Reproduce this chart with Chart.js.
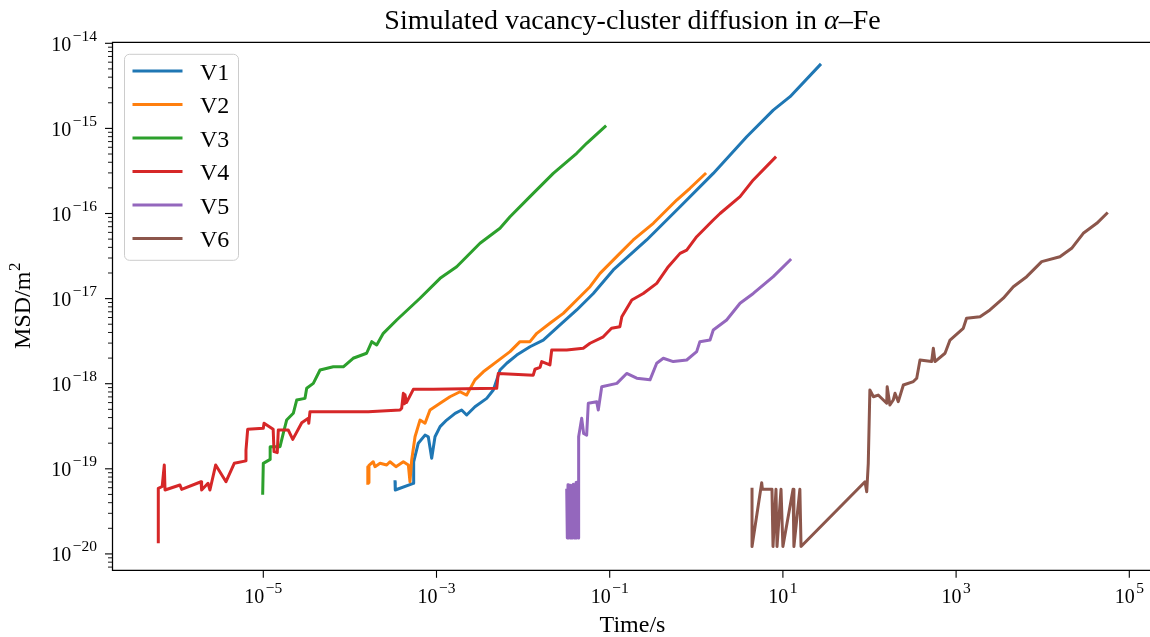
<!DOCTYPE html>
<html>
<head>
<meta charset="utf-8">
<title>Simulated vacancy-cluster diffusion in α–Fe</title>
<script src="https://cdn.jsdelivr.net/npm/chart.js@4.4.0/dist/chart.umd.min.js"></script>
<style>
  html, body { margin: 0; padding: 0; background: #fff; }
  canvas { display: block; }
</style>
</head>
<body>
<canvas id="msdChart" width="1150" height="637"></canvas>
<script>
// values: time in s, MSD in m^2
const v1Time = [3.32e-4, 3.34e-4, 5.40e-4, 5.45e-4, 6.16e-4, 7.37e-4, 8.04e-4, 8.80e-4, 9.61e-4, 1.10e-3,
    1.31e-3, 1.64e-3, 1.95e-3, 2.23e-3, 2.78e-3, 3.80e-3, 4.53e-3, 4.96e-3, 5.41e-3, 6.47e-3,
    8.44e-3, 1.20e-2, 1.71e-2, 2.67e-2, 4.16e-2, 6.47e-2, 0.110, 0.267, 0.649, 1.57,
    3.82, 7.74, 12.1, 26.8];
const v1Msd = [7.05e-20, 5.64e-20, 6.76e-20, 1.21e-19, 2.00e-19, 2.49e-19, 2.38e-19, 1.33e-19, 2.38e-19, 3.13e-19,
    3.74e-19, 4.49e-19, 4.91e-19, 4.29e-19, 5.37e-19, 6.73e-19, 8.43e-19, 1.11e-18, 1.45e-18, 1.74e-18,
    2.17e-18, 2.72e-18, 3.26e-18, 4.90e-18, 7.35e-18, 1.15e-17, 2.17e-17, 4.89e-17, 1.20e-16, 2.96e-16,
    7.99e-16, 1.64e-15, 2.36e-15, 5.56e-15];

const v2Time = [1.61e-4, 1.61e-4, 1.63e-4, 1.66e-4, 1.86e-4, 1.95e-4, 2.23e-4, 2.66e-4, 2.90e-4, 3.40e-4,
    4.14e-4, 4.73e-4, 4.94e-4, 5.17e-4, 5.65e-4, 6.45e-4, 7.37e-4, 8.41e-4, 1.10e-3, 1.43e-3,
    1.87e-3, 2.23e-3, 2.78e-3, 3.47e-3, 4.96e-3, 7.06e-3, 9.21e-3, 1.20e-2, 1.44e-2, 2.04e-2,
    2.91e-2, 4.16e-2, 5.93e-2, 7.73e-2, 0.131, 0.187, 0.319, 0.594, 0.845, 1.26];
const v2Msd = [6.76e-20, 1.06e-19, 6.90e-20, 1.10e-19, 1.21e-19, 1.06e-19, 1.16e-19, 1.11e-19, 1.21e-19, 1.06e-19,
    1.21e-19, 1.11e-19, 7.05e-20, 1.27e-19, 2.38e-19, 3.74e-19, 3.43e-19, 4.91e-19, 5.89e-19, 7.03e-19,
    8.05e-19, 7.36e-19, 1.11e-18, 1.38e-18, 1.82e-18, 2.38e-18, 3.12e-18, 3.12e-18, 3.91e-18, 5.13e-18,
    6.71e-18, 9.64e-18, 1.38e-17, 1.98e-17, 3.40e-17, 4.89e-17, 7.67e-17, 1.44e-16, 1.98e-16, 2.91e-16];

const v3Time = [9.84e-6, 1.00e-5, 1.20e-5, 1.20e-5, 1.56e-5, 1.70e-5, 1.86e-5, 2.22e-5, 2.43e-5, 3.03e-5,
    3.17e-5, 3.78e-5, 4.52e-5, 6.43e-5, 8.39e-5, 1.09e-4, 1.56e-4, 1.79e-4, 2.04e-4, 2.43e-4,
    3.47e-4, 6.45e-4, 1.10e-3, 1.71e-3, 3.18e-3, 5.41e-3, 7.06e-3, 1.20e-2, 2.23e-2, 4.16e-2,
    5.42e-2, 8.83e-2];
const v3Msd = [5.15e-20, 1.16e-19, 1.29e-19, 1.82e-19, 1.82e-19, 2.61e-19, 3.74e-19, 4.49e-19, 6.43e-19, 6.73e-19,
    8.83e-19, 1.01e-18, 1.45e-18, 1.58e-18, 1.58e-18, 1.99e-18, 2.28e-18, 3.12e-18, 2.85e-18, 3.91e-18,
    5.61e-18, 1.01e-17, 1.73e-17, 2.37e-17, 4.47e-17, 6.70e-17, 9.17e-17, 1.58e-16, 2.96e-16, 5.10e-16,
    6.68e-16, 1.05e-15];

const v4Time = [6.13e-7, 6.13e-7, 6.80e-7, 7.19e-7, 7.33e-7, 1.09e-6, 1.14e-6, 1.91e-6, 1.94e-6, 2.30e-6,
    2.42e-6, 2.82e-6, 3.71e-6, 4.62e-6, 6.31e-6, 6.31e-6, 6.60e-6, 1.00e-5, 1.02e-5, 1.30e-5,
    1.33e-5, 1.45e-5, 1.49e-5, 1.94e-5, 2.19e-5, 2.78e-5, 3.31e-5, 3.35e-5, 3.46e-5, 1.63e-4,
    3.79e-4, 3.96e-4, 4.14e-4, 4.25e-4, 4.33e-4, 4.50e-4, 5.40e-4, 9.19e-4, 4.96e-3, 5.17e-3,
    1.31e-2, 1.37e-2, 1.57e-2, 1.64e-2, 2.04e-2, 2.14e-2, 3.19e-2, 4.95e-2, 5.93e-2, 8.43e-2,
    0.105, 0.131, 0.138, 0.180, 0.244, 0.349, 0.475, 0.649, 0.775, 1.01,
    1.57, 1.88, 3.20, 4.55, 8.11];
const v4Msd = [1.39e-20, 5.90e-20, 6.20e-20, 1.11e-19, 5.64e-20, 6.46e-20, 5.74e-20, 7.05e-20, 5.64e-20, 6.76e-20,
    5.64e-20, 1.11e-19, 7.05e-20, 1.16e-19, 1.24e-19, 1.66e-19, 2.91e-19, 2.99e-19, 3.43e-19, 2.91e-19,
    1.59e-19, 1.55e-19, 2.86e-19, 2.86e-19, 2.22e-19, 3.48e-19, 3.92e-19, 3.43e-19, 4.69e-19, 4.69e-19,
    4.91e-19, 5.14e-19, 7.71e-19, 5.80e-19, 7.40e-19, 6.00e-19, 8.59e-19, 8.59e-19, 8.83e-19, 1.32e-18,
    1.26e-18, 1.48e-18, 1.56e-18, 1.82e-18, 1.66e-18, 2.49e-18, 2.49e-18, 2.61e-18, 2.99e-18, 3.56e-18,
    4.48e-18, 4.68e-18, 6.12e-18, 9.64e-18, 1.15e-17, 1.51e-17, 2.37e-17, 3.40e-17, 3.72e-17, 5.34e-17,
    8.39e-17, 1.00e-16, 1.58e-16, 2.48e-16, 4.53e-16];

const v5Time = [3.19e-2, 3.24e-2, 3.30e-2, 3.36e-2, 3.42e-2, 3.48e-2, 3.54e-2, 3.60e-2, 3.67e-2, 3.74e-2,
    3.81e-2, 3.88e-2, 3.95e-2, 4.02e-2, 4.09e-2, 4.17e-2, 4.25e-2, 4.34e-2, 4.36e-2, 4.40e-2,
    4.75e-2, 5.00e-2, 5.42e-2, 5.66e-2, 7.08e-2, 7.38e-2, 8.09e-2, 0.121, 0.157, 0.205,
    0.292, 0.349, 0.416, 0.542, 0.775, 1.01, 1.10, 1.44, 1.57, 2.24,
    3.20, 4.55, 7.74, 12.1];
const v5Msd = [5.60e-20, 1.54e-20, 6.50e-20, 1.54e-20, 5.20e-20, 1.54e-20, 6.40e-20, 1.54e-20, 5.80e-20, 1.54e-20,
    6.60e-20, 1.54e-20, 6.00e-20, 1.54e-20, 6.90e-20, 1.54e-20, 7.00e-20, 1.54e-20, 1.33e-19, 2.38e-19,
    3.92e-19, 2.60e-19, 2.49e-19, 5.89e-19, 6.15e-19, 4.91e-19, 9.23e-19, 1.01e-18, 1.32e-18, 1.16e-18,
    1.11e-18, 1.74e-18, 1.99e-18, 1.82e-18, 1.90e-18, 2.38e-18, 3.12e-18, 3.26e-18, 4.28e-18, 5.61e-18,
    8.81e-18, 1.15e-17, 1.81e-17, 2.84e-17];

const v6Time = [4.40, 4.40, 5.69, 5.80, 7.48, 7.69, 8.32, 8.55, 9.51, 10.0,
    13.1, 13.4, 15.7, 16.2, 88.7, 92.9, 96.8, 101, 111, 126,
    158, 160, 172, 188, 197, 215, 246, 321, 351, 383,
    522, 546, 571, 745, 851, 1210, 1320, 1890, 2460, 3510,
    4580, 6530, 9730, 15800, 21600, 29400, 42100, 54800];
const v6Msd = [5.74e-20, 1.22e-20, 6.87e-20, 5.74e-20, 5.74e-20, 1.22e-20, 5.74e-20, 1.22e-20, 5.74e-20, 1.22e-20,
    5.74e-20, 1.22e-20, 5.74e-20, 1.22e-20, 7.05e-20, 5.38e-20, 1.16e-19, 8.43e-19, 7.03e-19, 7.36e-19,
    5.89e-19, 9.23e-19, 5.62e-19, 6.43e-19, 7.71e-19, 6.15e-19, 9.66e-19, 1.06e-18, 1.16e-18, 1.90e-18,
    1.82e-18, 2.61e-18, 1.82e-18, 2.28e-18, 3.26e-18, 4.48e-18, 5.87e-18, 6.12e-18, 7.35e-18, 1.01e-17,
    1.38e-17, 1.81e-17, 2.72e-17, 3.10e-17, 3.90e-17, 5.85e-17, 7.67e-17, 1.00e-16];

const seriesNames = ['V1', 'V2', 'V3', 'V4', 'V5', 'V6'];
const seriesTimes = [v1Time, v2Time, v3Time, v4Time, v5Time, v6Time];
const seriesMsd = [v1Msd, v2Msd, v3Msd, v4Msd, v5Msd, v6Msd];
const seriesColors = ['#1f77b4', '#ff7f0e', '#2ca02c', '#d62728', '#9467bd', '#8c564b'];

// major tick positions (labels are 10^exponent)
const xTicks = [1e-5, 1e-3, 1e-1, 1e1, 1e3, 1e5];
const xTickExp = [-5, -3, -1, 1, 3, 5];
const yTicks = [1e-20, 1e-19, 1e-18, 1e-17, 1e-16, 1e-15, 1e-14];
const yTickExp = [-20, -19, -18, -17, -16, -15, -14];

const SERIF = "'Liberation Serif', 'Times New Roman', serif";

const data = {
    datasets: seriesNames.map((name, i) => ({
        label: name,
        data: seriesTimes[i].map((t, k) => ({x: t, y: seriesMsd[i][k]})),
        borderColor: seriesColors[i],
        borderWidth: 3,
        pointRadius: 0,
        fill: false,
        tension: 0,
        borderJoinStyle: 'round',
        borderCapStyle: 'square',
        // matplotlib draws later lines on top
        order: seriesNames.length - i
    }))
};

function drawPower(ctx, exp, x, baseY, supY, align) {
    const sup = (exp < 0 ? '\u2212' : '') + Math.abs(exp);
    ctx.font = '20px ' + SERIF;
    const wb = ctx.measureText('10').width;
    ctx.font = '15.5px ' + SERIF;
    const ws = ctx.measureText(sup).width + 1.5;
    const left = align === 'center' ? x - (wb + ws) / 2 : x - wb - ws;
    ctx.font = '20px ' + SERIF;
    ctx.fillText('10', left, baseY);
    ctx.font = '15.5px ' + SERIF;
    ctx.fillText(sup, left + wb + 1.5, supY);
}

function roundedBox(ctx, x, y, w, h, r) {
    ctx.beginPath();
    ctx.moveTo(x + r, y);
    ctx.arcTo(x + w, y, x + w, y + h, r);
    ctx.arcTo(x + w, y + h, x, y + h, r);
    ctx.arcTo(x, y + h, x, y, r);
    ctx.arcTo(x, y, x + w, y, r);
    ctx.closePath();
}

// axes frame, ticks, labels, title and legend in matplotlib style
const decorations = {
    id: 'decorations',
    afterDraw(chart) {
        const {ctx, chartArea: a, scales} = chart;
        const {x, y} = scales;
        ctx.save();
        ctx.fillStyle = '#000';
        ctx.strokeStyle = '#000';
        ctx.textBaseline = 'alphabetic';

        // spines (right one falls outside the picture)
        ctx.lineWidth = 1.25;
        ctx.beginPath();
        ctx.moveTo(chart.width, a.top);
        ctx.lineTo(a.left, a.top);
        ctx.lineTo(a.left, a.bottom);
        ctx.lineTo(chart.width, a.bottom);
        ctx.stroke();

        // x ticks
        ctx.lineWidth = 1.1;
        xTicks.forEach((v, i) => {
            const px = x.getPixelForValue(v);
            ctx.beginPath();
            ctx.moveTo(px, a.bottom);
            ctx.lineTo(px, a.bottom + 7.5);
            ctx.stroke();
            drawPower(ctx, xTickExp[i], px, a.bottom + 33, a.bottom + 23, 'center');
        });

        // y ticks, major and minor
        yTicks.forEach((v, i) => {
            const py = y.getPixelForValue(v);
            ctx.beginPath();
            ctx.moveTo(a.left, py);
            ctx.lineTo(a.left - 7.5, py);
            ctx.stroke();
            drawPower(ctx, yTickExp[i], a.left - 15.5, py + 7.5, py - 2.5, 'right');
        });
        ctx.lineWidth = 0.9;
        for (let e = -21; e <= -15; e++) {
            for (let m = 2; m <= 9; m++) {
                const v = m * Math.pow(10, e);
                if (v < y.min || v > y.max) continue;
                const py = y.getPixelForValue(v);
                ctx.beginPath();
                ctx.moveTo(a.left, py);
                ctx.lineTo(a.left - 4.5, py);
                ctx.stroke();
            }
        }

        // title with italic alpha
        const midX = 632.5;
        const t1 = 'Simulated vacancy-cluster diffusion in ';
        const t3 = '\u2013Fe';
        ctx.font = '28px ' + SERIF;
        const w1 = ctx.measureText(t1).width;
        const w3 = ctx.measureText(t3).width;
        ctx.font = 'italic 28px ' + SERIF;
        const w2 = ctx.measureText('\u03b1').width;
        let tx = midX - (w1 + w2 + w3) / 2;
        ctx.font = '28px ' + SERIF;
        ctx.fillText(t1, tx, 28.5);
        ctx.font = 'italic 28px ' + SERIF;
        ctx.fillText('\u03b1', tx + w1, 28.5);
        ctx.font = '28px ' + SERIF;
        ctx.fillText(t3, tx + w1 + w2, 28.5);

        // x axis label
        ctx.font = '24px ' + SERIF;
        ctx.textAlign = 'center';
        ctx.fillText('Time/s', midX, 632);
        ctx.textAlign = 'left';

        // y axis label, rotated
        ctx.save();
        ctx.translate(30, 306);
        ctx.rotate(-Math.PI / 2);
        ctx.font = '24px ' + SERIF;
        const wm = ctx.measureText('MSD/m').width;
        ctx.font = '17px ' + SERIF;
        const w2s = ctx.measureText('2').width;
        const ly0 = -(wm + w2s) / 2;
        ctx.font = '24px ' + SERIF;
        ctx.fillText('MSD/m', ly0, 0);
        ctx.font = '17px ' + SERIF;
        ctx.fillText('2', ly0 + wm + 0.5, -10);
        ctx.restore();

        // legend box
        const bx = a.left + 12, by = a.top + 12, bw = 114, bh = 206;
        roundedBox(ctx, bx, by, bw, bh, 5);
        ctx.fillStyle = 'rgba(255,255,255,0.8)';
        ctx.fill();
        ctx.strokeStyle = '#cccccc';
        ctx.lineWidth = 1;
        ctx.stroke();
        ctx.font = '24px ' + SERIF;
        seriesNames.forEach((name, i) => {
            const ry = by + 16.7 + i * 33.5;
            ctx.strokeStyle = seriesColors[i];
            ctx.lineWidth = 3;
            ctx.beginPath();
            ctx.moveTo(bx + 8, ry);
            ctx.lineTo(bx + 58, ry);
            ctx.stroke();
            ctx.fillStyle = '#000';
            ctx.fillText(name, bx + 75.5, ry + 8.5);
        });
        ctx.restore();
    }
};

const msdConfig = {
    type: 'line',
    data,
    options: {
        responsive: false,
        animation: false,
        devicePixelRatio: 1,
        layout: {
            padding: {left: 112.5, top: 42.3, right: 0, bottom: 66.7}
        },
        plugins: {
            legend: {display: false},
            tooltip: {enabled: false}
        },
        scales: {
            x: {type: 'logarithmic', display: false, min: 1.814e-7, max: 1.734e5},
            y: {type: 'logarithmic', display: false, min: 6.42e-21, max: 1.0274e-14}
        }
    },
    plugins: [decorations]
};

const msdChart = new Chart(document.getElementById('msdChart'), msdConfig);
</script>
</body>
</html>
